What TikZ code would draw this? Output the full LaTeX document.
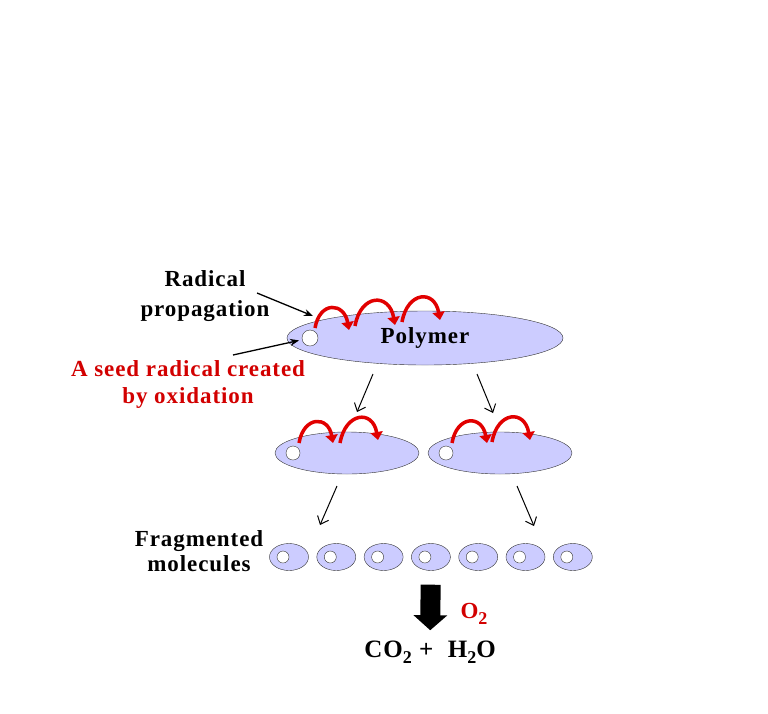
\documentclass[tikz,border=0pt]{standalone}
\usepackage{fontspec}
\setmainfont[LetterSpace=4]{Liberation Serif}
\usetikzlibrary{shapes.geometric, arrows.meta, positioning}
\definecolor{blobfill}{RGB}{204,204,255}
\definecolor{seedred}{RGB}{210,0,0}
\definecolor{hopred}{RGB}{225,0,0}
\newcommand\lowsub[1]{\raisebox{-6pt}{\fontsize{18}{18}\selectfont #1}}

\begin{document}
\begin{tikzpicture}[x=1pt,y=1pt,node distance=47.3pt,on grid,
  txt/.style={font=\bfseries\fontsize{23}{30}\selectfont, align=center, inner sep=0pt},
  blob/.style={ellipse, draw=black!80, fill=blobfill, inner sep=0pt},
  seed/.style={circle, draw=black!80, fill=white, inner sep=0pt},
  frag/.style={blob, minimum width=39, minimum height=27},
  hop/.style={hopred, line width=3.5pt, -{Triangle[length=8pt,width=12pt]}, out=80, in=100, looseness=2.1},
  split/.style={-{Straight Barb[length=7pt,width=12pt]}, line width=1pt},
  pointer/.style={-{Stealth[length=9pt,width=7pt]}, line width=1.3pt},
  burn/.style={line width=20pt, -{Triangle[length=15pt,width=33pt]}}]
  \useasboundingbox (0,0) rectangle (768,-713);

  % polymer chain with its seed radical
  \node[blob, txt, minimum width=276, minimum height=54] (poly) at (425,-338) {Polymer};
  \node[seed, minimum size=16] (s0) [left=115 of poly] {};
  \node[blob, minimum width=144, minimum height=42] (b1) [below left=115 and 78 of poly] {};
  \node[blob, minimum width=144, minimum height=42] (b2) [below right=115 and 75 of poly] {};
  \node[seed, minimum size=14] (s1) [left=54 of b1] {};
  \node[seed, minimum size=14] (s2) [left=54 of b2] {};

  % fragments
  \node[frag] (m1) at (289,-557) {};
  \node[frag] (m2) [right=of m1] {};
  \node[frag] (m3) [right=of m2] {};
  \node[frag] (m4) [right=of m3] {};
  \node[frag] (m5) [right=of m4] {};
  \node[frag] (m6) [right=of m5] {};
  \node[frag] (m7) [right=of m6] {};
  \node[seed, minimum size=12] (c1) [left=6 of m1] {};
  \node[seed, minimum size=12] (c2) [left=6 of m2] {};
  \node[seed, minimum size=12] (c3) [left=6 of m3] {};
  \node[seed, minimum size=12] (c4) [left=6 of m4] {};
  \node[seed, minimum size=12] (c5) [left=6 of m5] {};
  \node[seed, minimum size=12] (c6) [left=6 of m6] {};
  \node[seed, minimum size=12] (c7) [left=6 of m7] {};

  % labels
  \node[txt] (radlab) at (205,-296) {Radical\\propagation};
  \node[txt, seedred, font=\bfseries\fontsize{23}{27}\selectfont] (seedlab) at (188,-384) {A seed radical created\\by oxidation};
  \node[txt, font=\bfseries\fontsize{23}{25}\selectfont] (fraglab) at (199,-551) {Fragmented\\molecules};
  \node[txt, font=\bfseries\fontsize{25}{30}\selectfont, anchor=base] (co) at (430,-657) {CO\lowsub{2} +\ \ H\lowsub{2}O};
  \node[txt, seedred, anchor=base] (oxy) at (474,-618) {O\lowsub{2}};

  % free ends
  \coordinate (radtail) at (257,-293);
  \coordinate (radtip) at (313,-316);
  \coordinate (seedtail) at (233,-355);
  \coordinate (h1a) at (315,-328); \coordinate (h1b) at (349,-330);
  \coordinate (h2a) at (355,-326); \coordinate (h2b) at (395,-325);
  \coordinate (h3a) at (402,-322); \coordinate (h3b) at (440,-320);
  \coordinate (k1a) at (299,-443); \coordinate (k1b) at (333,-443);
  \coordinate (k2a) at (340,-443); \coordinate (k2b) at (378,-440);
  \coordinate (k3a) at (452,-443); \coordinate (k3b) at (487,-443);
  \coordinate (k4a) at (492,-442); \coordinate (k4b) at (530,-440);
  \coordinate (p1) at (373,-374); \coordinate (q1) at (357,-412);
  \coordinate (p2) at (477,-374); \coordinate (q2) at (493,-413);
  \coordinate (p3) at (337,-486); \coordinate (q3) at (320,-525);
  \coordinate (p4) at (517,-486); \coordinate (q4) at (534,-526);

  \path[hop]
    (h1a) edge (h1b)
    (h2a) edge (h2b)
    (h3a) edge (h3b)
    (k1a) edge (k1b)
    (k2a) edge (k2b)
    (k3a) edge (k3b)
    (k4a) edge (k4b);

  \path[split]
    (p1) edge (q1)
    (p2) edge (q2)
    (p3) edge (q3)
    (p4) edge (q4);

  \draw[pointer] (radtail) -- (radtip);
  \draw[pointer, shorten >=3pt] (seedtail) -- (s0);
  \draw[burn, shorten <=14pt, shorten >=10pt] (m4) -- (co);
\end{tikzpicture}
\end{document}
